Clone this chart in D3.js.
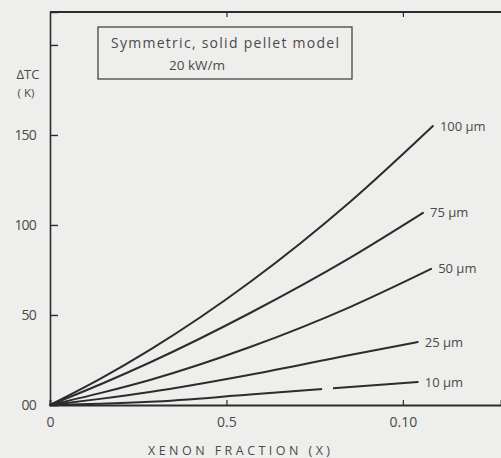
<!DOCTYPE html>
<html>
<head>
<meta charset="utf-8">
<script src="https://cdn.jsdelivr.net/npm/d3@7"></script>
<style>
  html, body { margin: 0; padding: 0; background: #eeeeec; }
  svg { display: block; }
  text { font-family: "Open Sans", "DejaVu Sans", sans-serif; fill: #4a4a4a; }
</style>
</head>
<body>
<svg id="chart" width="501" height="458"></svg>
<script>
// Centre-line temperature rise vs. xenon fraction, one curve per gap size
const gapLabels = ["100 \u00b5m", "75 \u00b5m", "50 \u00b5m", "25 \u00b5m", "10 \u00b5m"];

const frac100 = [0, 0.0142, 0.0283, 0.0567, 0.085, 0.1085];
const dtc100  = [0, 14.5, 30.6, 68.3, 112.8, 155];

const frac75 = [0, 0.0142, 0.0283, 0.0567, 0.085, 0.1057];
const dtc75  = [0, 11.4, 23.6, 51.1, 81.7, 106.7];

const frac50 = [0, 0.0142, 0.0283, 0.0567, 0.085, 0.108];
const dtc50  = [0, 6.6, 13.9, 32.2, 54.4, 75.6];

const frac25 = [0, 0.0142, 0.0283, 0.0567, 0.085, 0.1042];
const dtc25  = [0, 3.4, 7.2, 16.8, 27.8, 35];

const frac10 = [0, 0.0142, 0.0283, 0.0567, 0.085, 0.1042];
const dtc10  = [0, 0.7, 1.8, 5.8, 10, 12.8];

// break drawn in the 10 um curve
const gap10 = [0.0771, 0.0802];

const yTickValues = [0, 50, 100, 150, 200];
const yTickLabels = ["00", "50", "100", "150", ""];
const xTickValues = [0, 0.05, 0.10];
const xTickLabels = ["0", "0.5", "0.10"];

const fracs = [frac100, frac75, frac50, frac25, frac10];
const dtcs = [dtc100, dtc75, dtc50, dtc25, dtc10];

const svg = d3.select("#chart");
const ink = "#2c2c2c";

const x = d3.scaleLinear().domain([0, 0.1278]).range([50, 501]);
const y = d3.scaleLinear().domain([0, 218.3]).range([405, 12]);

// frame: top border and left axis
svg.append("line")
  .attr("x1", x(0)).attr("x2", x(0.1278))
  .attr("y1", y(218.3)).attr("y2", y(218.3))
  .attr("stroke", ink).attr("stroke-width", 1.8);

const yAxis = d3.axisLeft(y)
  .tickValues(yTickValues)
  .tickSize(-8)
  .tickPadding(14)
  .tickFormat((d, i) => yTickLabels[i]);

const gy = svg.append("g").attr("transform", `translate(${x(0)},0)`).call(yAxis);
gy.select(".domain").attr("stroke", ink).attr("stroke-width", 1.6);
gy.selectAll(".tick line").attr("stroke", ink).attr("stroke-width", 1.4);
gy.selectAll(".tick text").style("font-size", "14px").style("font-family", "'Open Sans', sans-serif")
  .attr("fill", "#4a4a4a").style("letter-spacing", "-0.8px");

const xAxis = d3.axisBottom(x)
  .tickValues(xTickValues)
  .tickSize(-5)
  .tickPadding(12)
  .tickFormat((d, i) => xTickLabels[i]);

const gx = svg.append("g").attr("transform", `translate(0,${y(0)})`).call(xAxis);
gx.select(".domain").attr("stroke", ink).attr("stroke-width", 1.8);
gx.selectAll(".tick line").attr("stroke", ink).attr("stroke-width", 1.2);
gx.selectAll(".tick text").style("font-size", "14px").style("font-family", "'Open Sans', sans-serif")
  .attr("fill", "#4a4a4a");

// ticks hanging from the top border
const xTop = d3.axisTop(x).tickValues([0.05, 0.10]).tickSize(-5).tickFormat("");
const gt = svg.append("g").attr("transform", `translate(0,${y(218.3)})`).call(xTop);
gt.select(".domain").remove();
gt.selectAll(".tick line").attr("stroke", ink).attr("stroke-width", 1.2);

// axis titles
svg.append("text").attr("x", 28).attr("y", 79).attr("text-anchor", "middle")
  .style("font-size", "13px").text("\u0394TC");
svg.append("text").attr("x", 26).attr("y", 97).attr("text-anchor", "middle")
  .style("font-size", "11.5px").text("( K)");
svg.append("text").attr("x", 239).attr("y", 455).attr("text-anchor", "middle")
  .style("font-size", "12.5px").attr("textLength", 182).attr("lengthAdjust", "spacing")
  .text("XENON FRACTION (X)");

// model note box
svg.append("rect").attr("x", 98).attr("y", 27).attr("width", 254).attr("height", 52)
  .attr("fill", "none").attr("stroke", "#444").attr("stroke-width", 1.3);
svg.append("text").attr("x", 225).attr("y", 48).attr("text-anchor", "middle")
  .style("font-size", "14px").attr("textLength", 228).attr("lengthAdjust", "spacing")
  .text("Symmetric, solid pellet model");
svg.append("text").attr("x", 197).attr("y", 70).attr("text-anchor", "middle")
  .style("font-size", "13.5px").text("20 kW/m");

// curves
const line = d3.line()
  .x(d => x(d[0]))
  .y(d => y(d[1]))
  .curve(d3.curveMonotoneX);

const defs = svg.append("defs");
const clip = defs.append("clipPath").attr("id", "gapclip");
clip.append("rect").attr("x", 0).attr("y", 0).attr("width", x(gap10[0])).attr("height", 458);
clip.append("rect").attr("x", x(gap10[1])).attr("y", 0).attr("width", 501 - x(gap10[1])).attr("height", 458);

fracs.forEach((fr, k) => {
  const pts = fr.map((f, i) => [f, dtcs[k][i]]);
  const p = svg.append("path")
    .attr("d", line(pts))
    .attr("fill", "none")
    .attr("stroke", ink)
    .attr("stroke-width", 2)
    .attr("stroke-linecap", "round");
  if (k === 4) p.attr("clip-path", "url(#gapclip)");

  const last = pts[pts.length - 1];
  svg.append("text")
    .attr("x", x(last[0]) + 7)
    .attr("y", y(last[1]))
    .attr("dy", "0.35em")
    .style("font-size", "13px")
    .text(gapLabels[k]);
});
</script>
</body>
</html>
